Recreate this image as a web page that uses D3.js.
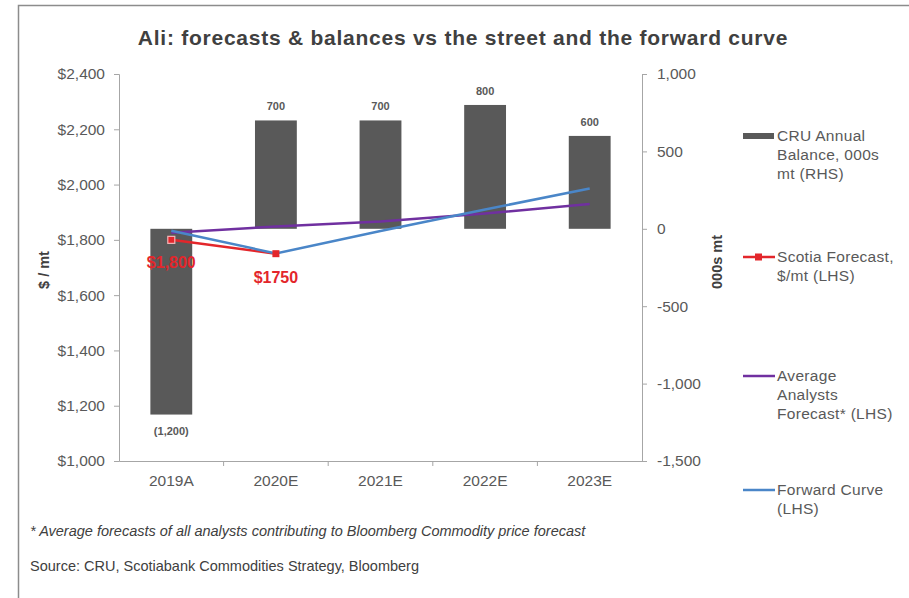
<!DOCTYPE html>
<html>
<head>
<meta charset="utf-8">
<script src="https://cdn.jsdelivr.net/npm/d3@7"></script>
<style>
  html, body { margin: 0; padding: 0; background: #fff; }
  svg { display: block; font-family: "Liberation Sans", Arial, sans-serif; }
</style>
</head>
<body>
<svg id="chart" width="909" height="598"></svg>
<script>
// ---- data ----
const categories = ["2019A", "2020E", "2021E", "2022E", "2023E"];
const balance = [-1200, 700, 700, 800, 600];           // 000s mt (RHS)
const balanceLabels = ["(1,200)", "700", "700", "800", "600"];
const scotiaForecast = [1800, 1750];                    // $/mt (LHS), 2019A-2020E
const scotiaLabels = ["$1,800", "$1750"];
const analystsAvg = [1826, 1848, 1866, 1895, 1930];     // $/mt (LHS)
const forwardCurve = [1833, 1751, 1832, 1910, 1986];    // $/mt (LHS)
const leftTicks = [1000, 1200, 1400, 1600, 1800, 2000, 2200, 2400];
const rightTicks = [-1500, -1000, -500, 0, 500, 1000];
const legendItems = [
  { key: "bar", lines: ["CRU Annual", "Balance, 000s", "mt (RHS)"] },
  { key: "scotia", lines: ["Scotia Forecast,", "$/mt (LHS)"] },
  { key: "avg", lines: ["Average", "Analysts", "Forecast* (LHS)"] },
  { key: "fwd", lines: ["Forward Curve", "(LHS)"] }
];

const colors = { bar: "#595959", scotia: "#e3262b", avg: "#7030a0", fwd: "#4a86c8",
                 axis: "#a6a6a6", text: "#595959", title: "#404040" };

const svg = d3.select("#chart");
const m = { left: 119, right: 642, top: 74, bottom: 461 };
const fmt = v => d3.format(",")(v).replace("\u2212", "-");

// frame
svg.append("path").attr("d", `M18.5,598 L18.5,5.5 L909,5.5`)
  .attr("fill", "none").attr("stroke", "#8c8c8c").attr("stroke-width", 1.5);

const x = d3.scaleBand().domain(categories).range([m.left, m.right]).paddingInner(0.6).paddingOuter(0.3);
const xp = d3.scalePoint().domain(categories).range([m.left, m.right]).padding(0.5);
const yL = d3.scaleLinear().domain([1000, 2400]).range([m.bottom, m.top]);
const yR = d3.scaleLinear().domain([-1500, 1000]).range([m.bottom, m.top]);

// title
svg.append("text").attr("x", 463).attr("y", 45).attr("text-anchor", "middle")
  .attr("font-size", 21).attr("font-weight", "bold").attr("fill", colors.title)
  .attr("letter-spacing", 0.75)
  .text("Ali: forecasts & balances vs the street and the forward curve");

// bars
svg.append("g").selectAll("rect").data(balance).join("rect")
  .attr("x", (d, i) => x(categories[i]))
  .attr("width", x.bandwidth())
  .attr("y", d => yR(Math.max(0, d)))
  .attr("height", d => Math.abs(yR(d) - yR(0)))
  .attr("fill", colors.bar);

// bar labels
svg.append("g").selectAll("text").data(balance).join("text")
  .attr("x", (d, i) => xp(categories[i]))
  .attr("y", d => d >= 0 ? yR(d) - 10 : yR(d) + 20)
  .attr("text-anchor", "middle").attr("font-size", 11).attr("font-weight", "bold")
  .attr("fill", colors.text)
  .text((d, i) => balanceLabels[i]);

// axes
function styleAxis(g) {
  g.selectAll(".domain").attr("stroke", colors.axis);
  g.selectAll(".tick line").attr("stroke", colors.axis);
  g.selectAll(".tick text").attr("fill", colors.text).attr("font-size", 15.5)
    .attr("font-family", "Liberation Sans, Arial, sans-serif");
}
const gL = svg.append("g").attr("transform", `translate(${m.left},0)`)
  .call(d3.axisLeft(yL).tickValues(leftTicks).tickSize(5).tickPadding(9)
    .tickFormat(d => "$" + fmt(d)));
styleAxis(gL);
const gR = svg.append("g").attr("transform", `translate(${m.right},0)`)
  .call(d3.axisRight(yR).tickValues(rightTicks).tickSize(5).tickPadding(10)
    .tickFormat(d => fmt(d)));
styleAxis(gR);
const gB = svg.append("g").attr("transform", `translate(0,${m.bottom})`)
  .call(d3.axisBottom(x).tickSize(0).tickPadding(14));
styleAxis(gB);
// category boundary ticks on the x axis
const step = (m.right - m.left) / categories.length;
gB.selectAll("line.bnd").data(d3.range(1, categories.length)).join("line")
  .attr("class", "bnd")
  .attr("x1", i => m.left + i * step).attr("x2", i => m.left + i * step)
  .attr("y1", 0).attr("y2", 5).attr("stroke", colors.axis);

// axis titles
svg.append("text").attr("transform", `translate(49,270) rotate(-90)`)
  .attr("text-anchor", "middle").attr("font-size", 14.5).attr("font-weight", "bold")
  .attr("fill", colors.title).text("$ / mt");
svg.append("text").attr("transform", `translate(722,262) rotate(-90)`)
  .attr("text-anchor", "middle").attr("font-size", 14.5).attr("font-weight", "bold")
  .attr("fill", colors.title).text("000s mt");

// lines
const line = d3.line().x((d, i) => xp(categories[i])).y(d => yL(d));
svg.append("path").datum(scotiaForecast).attr("d", line)
  .attr("fill", "none").attr("stroke", colors.scotia).attr("stroke-width", 2.5);
svg.append("path").datum(analystsAvg).attr("d", line)
  .attr("fill", "none").attr("stroke", colors.avg).attr("stroke-width", 2.5);
svg.append("path").datum(forwardCurve).attr("d", line)
  .attr("fill", "none").attr("stroke", colors.fwd).attr("stroke-width", 2.5);

// scotia markers
svg.append("g").selectAll("rect").data(scotiaForecast).join("rect")
  .attr("x", (d, i) => xp(categories[i]) - 3.5).attr("y", d => yL(d) - 3.5)
  .attr("width", 7).attr("height", 7).attr("fill", colors.scotia)
  .attr("stroke", "#f4b6b8").attr("stroke-width", (d, i) => i === 0 ? 1.2 : 0);

// scotia labels
svg.append("g").selectAll("text").data(scotiaForecast).join("text")
  .attr("x", (d, i) => xp(categories[i]))
  .attr("y", (d, i) => yL(d) + (i === 0 ? 28 : 29))
  .attr("text-anchor", "middle").attr("font-size", 16).attr("font-weight", "bold")
  .attr("fill", colors.scotia)
  .text((d, i) => scotiaLabels[i]);

// legend
const legendY = [136, 257, 376, 490];
const lg = svg.append("g");
legendItems.forEach((it, k) => {
  const y0 = legendY[k];
  const g = lg.append("g");
  if (it.key === "bar") {
    g.append("rect").attr("x", 743).attr("y", y0 - 3).attr("width", 31).attr("height", 6).attr("fill", colors.bar);
  } else {
    g.append("line").attr("x1", 743).attr("x2", 775).attr("y1", y0).attr("y2", y0)
      .attr("stroke", colors[it.key]).attr("stroke-width", 2.5);
    if (it.key === "scotia") {
      g.append("rect").attr("x", 755).attr("y", y0 - 3.5).attr("width", 7).attr("height", 7).attr("fill", colors.scotia);
    }
  }
  g.append("text").attr("x", 777).attr("y", y0 + 5).attr("font-size", 15.5).attr("fill", colors.text)
    .attr("letter-spacing", 0.3)
    .selectAll("tspan").data(it.lines).join("tspan")
    .attr("x", 777).attr("dy", (d, i) => i === 0 ? 0 : 19).text(d => d);
});

// footnotes
svg.append("text").attr("x", 30).attr("y", 536).attr("font-size", 14.5).attr("font-style", "italic")
  .attr("fill", colors.title)
  .text("* Average forecasts of all analysts contributing to Bloomberg Commodity price forecast");
svg.append("text").attr("x", 30).attr("y", 571).attr("font-size", 14.5)
  .attr("fill", colors.title)
  .text("Source: CRU, Scotiabank Commodities Strategy, Bloomberg");
</script>
</body>
</html>
